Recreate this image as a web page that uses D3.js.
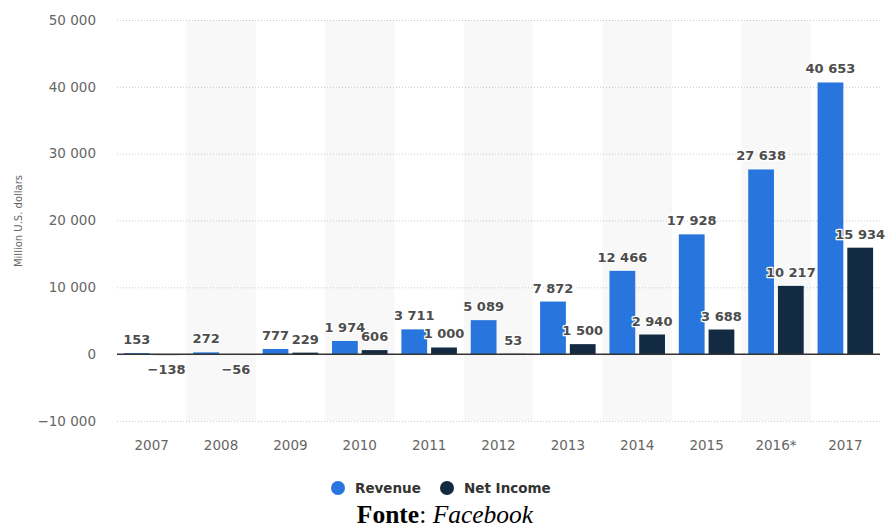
<!DOCTYPE html>
<html>
<head>
<meta charset="utf-8">
<script src="https://cdn.jsdelivr.net/npm/d3@7/dist/d3.min.js"></script>
<style>
  html, body { margin: 0; padding: 0; background: #fff; }
  svg { display: block; }
</style>
</head>
<body>
<svg id="chart" width="887" height="530"></svg>
<script>
// Facebook revenue and net income, million U.S. dollars
const years = ["2007", "2008", "2009", "2010", "2011", "2012", "2013", "2014", "2015", "2016*", "2017"];
const revenue = [153, 272, 777, 1974, 3711, 5089, 7872, 12466, 17928, 27638, 40653];
const netIncome = [-138, -56, 229, 606, 1000, 53, 1500, 2940, 3688, 10217, 15934];
const seriesNames = ["Revenue", "Net Income"];
const seriesColors = ["#2876dd", "#132a43"];
const yTicks = [-10000, 0, 10000, 20000, 30000, 40000, 50000];

const svg = d3.select("#chart");
// thousands separated by a space, minus sign for negatives
const fmt = v => (v < 0 ? "\u2212" : "") + d3.format(",")(Math.abs(v)).replace(/,/g, " ");

const x = d3.scaleBand().domain(years).range([117, 880]).padding(0);
const xs = d3.scaleBand().domain(seriesNames).range([0, x.bandwidth()])
  .paddingInner(0.133).paddingOuter(0.233);
const y = d3.scaleLinear().domain([-10000, 50000]).range([421, 20]);

// alternating band shading
svg.append("g").selectAll("rect")
  .data(years.filter((d, i) => i % 2 === 1))
  .join("rect")
  .attr("x", d => x(d))
  .attr("y", y(50000))
  .attr("width", x.bandwidth())
  .attr("height", y(-10000) - y(50000))
  .attr("fill", "#f8f8f8");

// y axis with dotted grid lines
const yAxis = d3.axisLeft(y).tickValues(yTicks)
  .tickSize(-(880 - 117)).tickPadding(21)
  .tickFormat(fmt);
const gy = svg.append("g").attr("transform", "translate(117,0)").call(yAxis);
gy.select(".domain").remove();
gy.selectAll(".tick line")
  .attr("stroke", "#c8c8c8")
  .attr("stroke-dasharray", "1,2")
  .attr("stroke-width", 1);
gy.selectAll(".tick text")
  .attr("fill", "#666")
  .style("font-family", "'DejaVu Sans', sans-serif")
  .style("font-size", "13.5px");

// x axis labels
const xAxis = d3.axisBottom(x).tickSize(0).tickPadding(12);
const gx = svg.append("g").attr("transform", "translate(0,428)").call(xAxis);
gx.select(".domain").remove();
gx.selectAll(".tick text")
  .attr("fill", "#666")
  .style("font-family", "'DejaVu Sans', sans-serif")
  .style("font-size", "13.5px");

// y axis title
svg.append("text")
  .attr("transform", "translate(22,221) rotate(-90)")
  .attr("text-anchor", "middle")
  .attr("fill", "#666")
  .style("font-family", "'DejaVu Sans', sans-serif")
  .style("font-size", "10px")
  .text("Million U.S. dollars");

// bars
const rows = years.map((yr, i) => ({ year: yr, values: [revenue[i], netIncome[i]] }));
const flat = [];
rows.forEach(r => r.values.forEach((v, k) => flat.push({ year: r.year, series: seriesNames[k], k, v })));

svg.append("g").selectAll("rect")
  .data(flat)
  .join("rect")
  .attr("x", d => x(d.year) + xs(d.series))
  .attr("width", xs.bandwidth())
  .attr("y", d => y(Math.max(0, d.v)))
  .attr("height", d => Math.abs(y(d.v) - y(0)))
  .attr("fill", d => seriesColors[d.k]);

// zero line
svg.append("line")
  .attr("x1", 117).attr("x2", 880)
  .attr("y1", y(0)).attr("y2", y(0))
  .attr("stroke", "#333").attr("stroke-width", 1.5);

// value labels
svg.append("g").selectAll("text")
  .data(flat)
  .join("text")
  .attr("x", d => x(d.year) + xs(d.series) + xs.bandwidth() / 2)
  .attr("y", d => d.v >= 0 ? y(d.v) - 9 : y(d.v) + 19)
  .attr("text-anchor", "middle")
  .attr("fill", "#4d4d4d")
  .attr("stroke", "#fff")
  .attr("stroke-width", 2.5)
  .attr("stroke-linejoin", "round")
  .attr("paint-order", "stroke")
  .style("font-family", "'DejaVu Sans', sans-serif")
  .style("font-size", "13px")
  .style("font-weight", "bold")
  .text(d => fmt(d.v));

// legend
const legendX = [338, 447];
const lg = svg.append("g").selectAll("g")
  .data(seriesNames)
  .join("g")
  .attr("transform", (d, i) => `translate(${legendX[i]},488)`);
lg.append("circle").attr("r", 7).attr("fill", (d, i) => seriesColors[i]);
lg.append("text")
  .attr("x", 17).attr("y", 5)
  .attr("fill", "#333")
  .style("font-family", "'DejaVu Sans', sans-serif")
  .style("font-size", "13.5px")
  .style("font-weight", "bold")
  .text(d => d);

// source line
const src = svg.append("text")
  .attr("x", 445).attr("y", 523)
  .attr("text-anchor", "middle")
  .attr("fill", "#000")
  .style("font-family", "'Liberation Serif', 'Times New Roman', serif")
  .style("font-size", "25.5px");
src.append("tspan").style("font-weight", "bold").text("Fonte");
src.append("tspan").text(": ");
src.append("tspan").style("font-style", "italic").text("Facebook");
</script>
</body>
</html>
